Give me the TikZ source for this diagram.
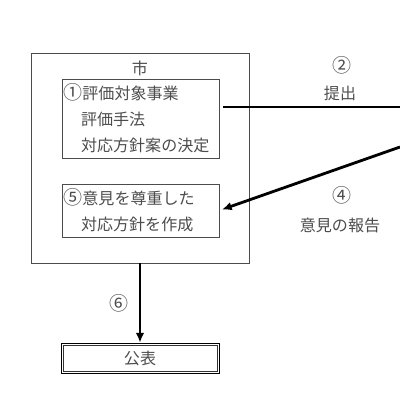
\documentclass[tikz,border=0pt]{standalone}
\usepackage{fontspec}
\setmainfont{Noto Sans CJK JP}
\usetikzlibrary{positioning,arrows.meta}

\newcommand\circnum[1]{{\fontsize{13.5}{18.5}\selectfont #1}}

\tikzset{
    box/.style={draw=black!70, rectangle, inner xsep=1pt, align=left, text=black!70},
    flow/.style={line width=2pt, -{Latex[length=7pt,width=6pt]}},
    lbl/.style={text=black!70, inner sep=0pt},
}

\begin{document}
\begin{tikzpicture}[x=0.025cm, y=-0.025cm, font=\fontsize{11.4}{18.5}\selectfont]
    \useasboundingbox (0,0) rectangle (400,400);
    \node[box, minimum width=5.45cm, minimum height=5.25cm] (city) at (140,158) {};
    \node[lbl] (cityname) at (140,68) {市};
    \node[box, text width=3.85cm, minimum height=1.975cm] (plan) at (140.5,118.5)
        {\circnum{①}評価対象事業\\\hspace*{1.1em}評価手法\\\hspace*{1.1em}対応方針案の決定};
    \node[box, text width=3.85cm, minimum height=1.325cm] (policy) at (140.5,210.5)
        {\circnum{⑤}意見を尊重した\\\hspace*{1.1em}対応方針を作成};
    \node[box, draw=black, align=center, minimum width=3.95cm, minimum height=0.75cm] (publish) at (140,358) {公表};
    \draw[black!80] ([shift={(1.5pt,-1.5pt)}]publish.north west) rectangle ([shift={(-1.5pt,1.5pt)}]publish.south east);

    \coordinate (out2) at (400,107);
    \coordinate (in4) at (400,147);
    \draw[line width=2pt, shorten <=3pt] (plan.east |- out2) -- (out2);
    \draw[flow, shorten >=2pt] (in4) -- (policy.east);
    \draw[flow] (city.south) -- (publish.north);

    \node[lbl] (n2) at (342,65) {\circnum{②}};
    \node[lbl] (submit) at (340,93) {提出};
    \node[lbl] (n4) at (342,195) {\circnum{④}};
    \node[lbl] (report) at (340,225) {意見の報告};
    \node[lbl] (n6) at (119,303) {\circnum{⑥}};
\end{tikzpicture}
\end{document}
